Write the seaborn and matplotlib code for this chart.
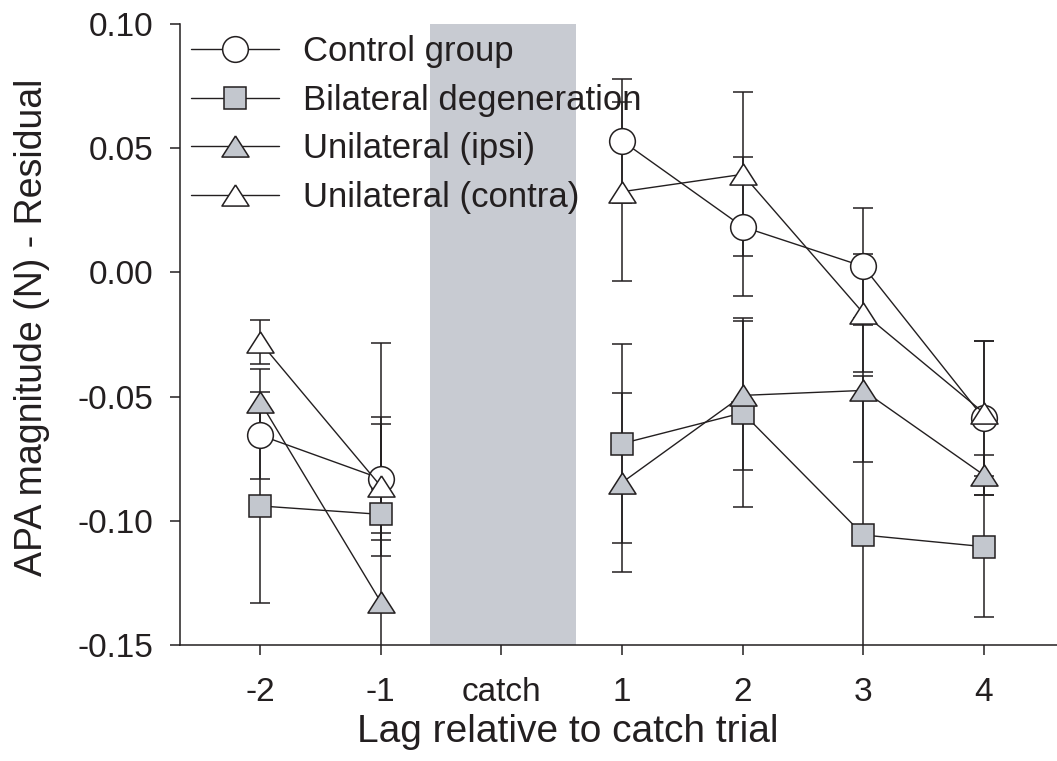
import numpy as np
import pandas as pd
import matplotlib
matplotlib.use("Agg")
import matplotlib.pyplot as plt
import seaborn as sns
from matplotlib.lines import Line2D

sns.set_style("ticks")
plt.rcParams['font.family'] = ['Liberation Sans', 'DejaVu Sans']

categories = ['-2', '-1', 'catch', '1', '2', '3', '4']
nan = np.nan
control = [-0.0655, -0.083, nan, 0.053, 0.0184, 0.0024, -0.0588]
control_err = [0.0175, 0.022, nan, 0.025, 0.028, 0.0236, 0.031]
bilateral = [-0.094, -0.0974, nan, -0.0689, -0.0565, -0.1057, -0.1104]
bilateral_err = [0.039, 0.0104, nan, 0.040, 0.038, 0.064, 0.0285]
ipsi = [-0.052, -0.1326, nan, -0.0846, -0.0495, -0.0475, -0.0816]
ipsi_err = [0.013, 0.104, nan, 0.036, 0.030, 0.029, 0.008]
contra = [-0.028, -0.086, nan, 0.0325, 0.0395, -0.0164, -0.0566]
contra_err = [0.009, 0.028, nan, 0.036, 0.033, 0.0238, 0.029]
series_names = ['Control group', 'Bilateral degeneration', 'Unilateral (ipsi)', 'Unilateral (contra)']

GRAY = '#c3c7ce'
BAND = '#c8cbd2'
INK = '#231f20'
tri = [(0, 0.78), (-1, -0.78), (1, -0.78), (0, 0.78)]
styles = {
    'Control group': dict(marker='o', ms=18.5, mfc='white'),
    'Bilateral degeneration': dict(marker='s', ms=15.8, mfc=GRAY),
    'Unilateral (ipsi)': dict(marker=tri, ms=19.5, mfc=GRAY),
    'Unilateral (contra)': dict(marker=tri, ms=19.5, mfc='white'),
}

pos = np.arange(len(categories))
seg = ['pre', 'pre', 'gap', 'post', 'post', 'post', 'post']
frames = []
for name, vals, errs in zip(series_names, [control, bilateral, ipsi, contra],
                            [control_err, bilateral_err, ipsi_err, contra_err]):
    frames.append(pd.DataFrame({'pos': pos, 'value': vals, 'err': errs,
                                'seg': seg, 'group': name}))
df = pd.concat(frames, ignore_index=True)

fig = plt.figure(figsize=(10.57, 7.61), dpi=100)
ax = fig.add_axes([0.1703, 0.1524, 0.8297, 0.816])

ax.axvspan(1.41, 2.62, color=BAND, lw=0, zorder=0)

for name in series_names:
    sub = df[df['group'] == name].dropna(subset=['value'])
    ax.errorbar(sub['pos'], sub['value'], yerr=sub['err'], fmt='none',
                ecolor=INK, elinewidth=1.1, capsize=7.2, capthick=1.1, zorder=2)

for i, name in enumerate(series_names):
    sub = df[df['group'] == name].dropna(subset=['value'])
    st = styles[name]
    sns.lineplot(data=sub, x='pos', y='value', units='seg', estimator=None,
                 color=INK, lw=1.0, marker=st['marker'], markersize=st['ms'],
                 markerfacecolor=st['mfc'], markeredgecolor=INK,
                 markeredgewidth=1.1, ax=ax, zorder=3 + i, legend=False)

ax.set_xlim(-0.663, 6.605)
ax.set_ylim(-0.15, 0.10)
ax.set_xticks(pos)
ax.set_xticklabels(categories)
ax.set_yticks([-0.15, -0.10, -0.05, 0.00, 0.05, 0.10])
ax.set_yticklabels(['-0.15', '-0.10', '-0.05', '0.00', '0.05', '0.10'])
ax.tick_params(axis='both', direction='out', length=7, width=1.1, labelsize=24,
               color=INK, labelcolor=INK)
ax.tick_params(axis='y', pad=12)
ax.tick_params(axis='x', pad=16)
for s in ['top', 'right']:
    ax.spines[s].set_visible(False)
for s in ['left', 'bottom']:
    ax.spines[s].set_linewidth(1.1)
    ax.spines[s].set_color(INK)

ax.set_xlabel('Lag relative to catch trial', fontsize=28, color=INK)
ax.set_ylabel('APA magnitude (N) - Residual', fontsize=27, color=INK)
ax.xaxis.set_label_coords((568 - 180) / 877, -0.111)
ax.yaxis.set_label_coords(-0.148, 0.511)

handles = []
for name in series_names:
    st = styles[name]
    handles.append(Line2D([0], [0], color=INK, lw=1.0, marker=st['marker'],
                          markersize=st['ms'], markerfacecolor=st['mfc'],
                          markeredgecolor=INK, markeredgewidth=1.1))
leg = ax.legend(handles, series_names, loc='upper left', bbox_to_anchor=(0.0122, 0.982),
                frameon=False, fontsize=25, handlelength=2.54, handletextpad=0.69,
                labelspacing=0.45, borderpad=0, borderaxespad=0)
for t in leg.get_texts():
    t.set_color(INK)

fig.savefig('out.png', dpi=100)
